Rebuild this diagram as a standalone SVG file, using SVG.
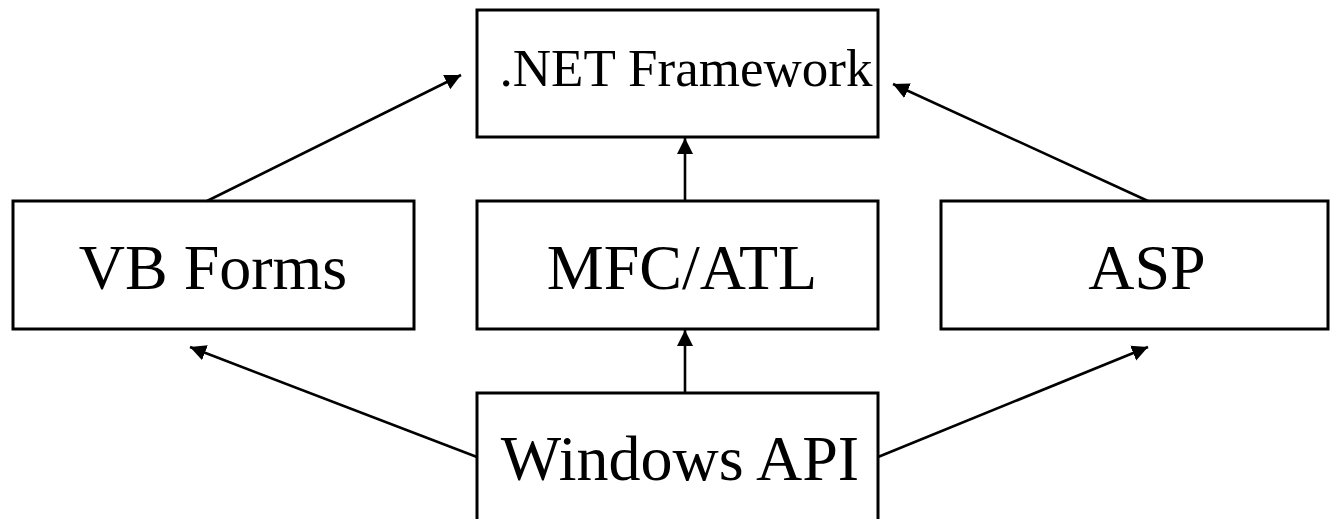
<svg xmlns="http://www.w3.org/2000/svg" width="1330" height="519" viewBox="0 0 1330 519">
<style>
.box{fill:#fff;stroke:#000;stroke-width:3}
.lbl{font-family:"Liberation Serif","Times New Roman",serif;fill:#000;text-anchor:middle}
.big{font-size:64px}
.sm{font-size:53px}
.con{stroke:#000;stroke-width:2.6;fill:none;marker-end:url(#ah)}
</style>
<defs>
<marker id="ah" markerUnits="userSpaceOnUse" markerWidth="20" markerHeight="20" refX="16" refY="8" orient="auto">
<path d="M0,0 L16,8 L0,16 Z" fill="#000"/>
</marker>
</defs>
<rect width="1330" height="519" fill="#fff"/>
<g id="net"><rect class="box" x="477" y="10" width="401" height="127"/><text class="lbl sm" x="686" y="86">.NET Framework</text></g>
<g id="vb"><rect class="box" x="13" y="201" width="401" height="128"/><text class="lbl big" x="213" y="289">VB Forms</text></g>
<g id="mfc"><rect class="box" x="477" y="201" width="401" height="128"/><text class="lbl big" x="682" y="289">MFC/ATL</text></g>
<g id="asp"><rect class="box" x="941" y="201" width="387" height="128"/><text class="lbl big" x="1147" y="289">ASP</text></g>
<g id="win"><rect class="box" x="477" y="393" width="401" height="140"/><text class="lbl big" x="680" y="480">Windows API</text></g>
<g id="connectors">
<line class="con" x1="207" y1="201" x2="461" y2="75"/>
<line class="con" x1="1148" y1="201" x2="893" y2="84"/>
<line class="con" x1="685" y1="201" x2="685" y2="138"/>
<line class="con" x1="685" y1="393" x2="685" y2="330"/>
<line class="con" x1="477" y1="457" x2="190" y2="347"/>
<line class="con" x1="878" y1="457" x2="1148" y2="347"/>
</g>
</svg>
